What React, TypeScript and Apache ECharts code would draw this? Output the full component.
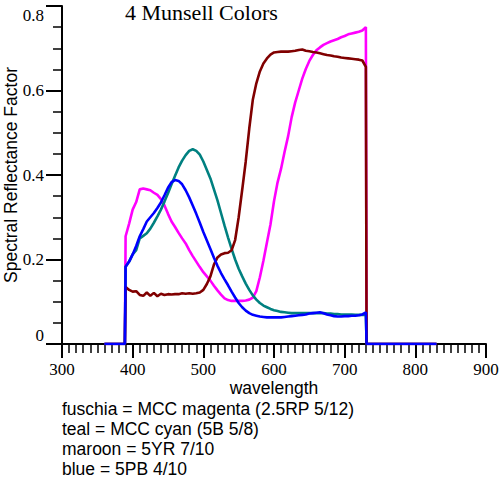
import React, { useEffect, useRef } from "react";
import * as echarts from "echarts";

// Wavelength grid (nm) for the measured part of the spectra
const WAVELENGTHS = [
  390, 395, 400, 405, 410, 415, 420, 425, 430, 435, 440, 445, 450, 455, 460, 465, 470, 475, 480, 485,
  490, 495, 500, 505, 510, 515, 520, 525, 530, 535, 540, 545, 550, 555, 560, 565, 570, 575, 580, 585,
  590, 595, 600, 605, 610, 615, 620, 625, 630, 635, 640, 645, 650, 655, 660, 665, 670, 675, 680, 685,
  690, 695, 700, 705, 710, 715, 720, 725, 730,
];
// Zero-valued lead-in / lead-out wavelengths
const LEAD_IN = [360, 389];
const LEAD_OUT = [731, 830];

const MAGENTA = [
  0.255, 0.285, 0.318, 0.336, 0.366, 0.368, 0.366, 0.364, 0.358, 0.353, 0.343, 0.328, 0.308, 0.290, 0.277, 0.263, 0.250, 0.238, 0.222, 0.208,
  0.195, 0.182, 0.170, 0.160, 0.150, 0.138, 0.127, 0.117, 0.108, 0.104, 0.102, 0.102, 0.102, 0.102, 0.103, 0.105, 0.110, 0.125, 0.158, 0.197,
  0.240, 0.283, 0.338, 0.382, 0.415, 0.455, 0.492, 0.537, 0.572, 0.600, 0.628, 0.651, 0.670, 0.684, 0.695, 0.702, 0.708, 0.712, 0.716, 0.719,
  0.722, 0.726, 0.729, 0.733, 0.735, 0.737, 0.739, 0.742, 0.750,
];
const TEAL = [
  0.183, 0.195, 0.212, 0.222, 0.250, 0.256, 0.262, 0.273, 0.287, 0.302, 0.318, 0.337, 0.357, 0.378, 0.398, 0.418, 0.434, 0.447, 0.457, 0.461,
  0.457, 0.448, 0.432, 0.412, 0.392, 0.366, 0.340, 0.310, 0.280, 0.252, 0.225, 0.200, 0.178, 0.160, 0.143, 0.128, 0.115, 0.105, 0.097, 0.091,
  0.087, 0.083, 0.080, 0.078, 0.076, 0.075, 0.074, 0.073, 0.073, 0.073, 0.073, 0.073, 0.073, 0.073, 0.073, 0.073, 0.073, 0.072, 0.072, 0.071,
  0.071, 0.070, 0.070, 0.070, 0.070, 0.069, 0.069, 0.069, 0.069,
];
const MAROON = [
  0.135, 0.128, 0.124, 0.125, 0.116, 0.114, 0.122, 0.114, 0.121, 0.113, 0.119, 0.116, 0.118, 0.117, 0.118, 0.118, 0.120, 0.119, 0.120, 0.119,
  0.120, 0.122, 0.128, 0.142, 0.160, 0.188, 0.205, 0.212, 0.215, 0.216, 0.222, 0.246, 0.300, 0.365, 0.432, 0.510, 0.578, 0.617, 0.645, 0.664,
  0.676, 0.685, 0.690, 0.691, 0.692, 0.692, 0.692, 0.693, 0.694, 0.696, 0.697, 0.694, 0.693, 0.691, 0.690, 0.688, 0.686, 0.684, 0.683, 0.681,
  0.680, 0.678, 0.677, 0.676, 0.675, 0.674, 0.673, 0.671, 0.656,
];
const BLUE = [
  0.183, 0.195, 0.212, 0.232, 0.255, 0.272, 0.290, 0.300, 0.310, 0.322, 0.335, 0.352, 0.370, 0.383, 0.388, 0.386, 0.378, 0.364, 0.347, 0.328,
  0.308, 0.287, 0.265, 0.245, 0.225, 0.204, 0.185, 0.168, 0.153, 0.139, 0.124, 0.110, 0.097, 0.087, 0.079, 0.073, 0.069, 0.067, 0.065, 0.064,
  0.063, 0.063, 0.063, 0.063, 0.063, 0.064, 0.065, 0.066, 0.067, 0.068, 0.069, 0.070, 0.072, 0.073, 0.074, 0.075, 0.073, 0.070, 0.068, 0.066,
  0.065, 0.065, 0.066, 0.066, 0.067, 0.067, 0.068, 0.070, 0.075,
];

const SERIES_NAMES = ["fuschia", "teal", "maroon", "blue"];
const SERIES_COLORS = ["#ff00ff", "#008080", "#800000", "#0000ff"];
const SERIES_VALUES = [MAGENTA, TEAL, MAROON, BLUE];

const TITLE = "4 Munsell Colors";
const X_NAME = "wavelength";
const Y_NAME = "Spectral Reflectance Factor";
const NOTES = [
  "fuschia = MCC magenta (2.5RP 5/12)",
  "teal = MCC cyan (5B 5/8)",
  "maroon = 5YR 7/10",
  "blue = 5PB 4/10",
];

const X_MIN = 300;
const X_MAX = 900;
const X_STEP = 100;
const Y_MIN = 0;
const Y_MAX = 0.8;
const Y_STEP = 0.2;

const SERIF = "'Liberation Serif', 'Times New Roman', serif";
const SANS = "'Liberation Sans', Arial, Helvetica, sans-serif";

function buildPoints(values: number[]): number[][] {
  const pts: number[][] = LEAD_IN.map((w) => [w, 0]);
  WAVELENGTHS.forEach((w, i) => pts.push([w, values[i]]));
  LEAD_OUT.forEach((w) => pts.push([w, 0]));
  return pts;
}

export default function App() {
  const ref = useRef<HTMLDivElement>(null);

  useEffect(() => {
    if (!ref.current) return;
    const chart = echarts.init(ref.current, undefined, { renderer: "svg" });
    const labelBase = { fontFamily: SERIF, fontSize: 17, color: "#000" };
    chart.setOption({
      animation: false,
      backgroundColor: "#fff",
      title: {
        text: TITLE,
        left: 125,
        top: 1,
        padding: 0,
        textStyle: { fontFamily: SERIF, fontSize: 22, fontWeight: "normal", color: "#000" },
      },
      grid: { left: 62, right: 14, top: 6, bottom: 136, containLabel: false, outerBoundsMode: "none" },
      xAxis: {
        type: "value",
        min: X_MIN,
        max: X_MAX,
        interval: X_STEP,
        name: X_NAME,
        nameLocation: "middle",
        nameGap: 35,
        nameMoveOverlap: false,
        nameTextStyle: { fontFamily: SANS, fontSize: 17.5, color: "#000", lineHeight: 17 },
        axisLine: { show: true, onZero: false, lineStyle: { color: "#000", width: 2 } },
        axisTick: { show: true, inside: false, length: 14, lineStyle: { color: "#000", width: 2 } },
        minorTick: { show: true, splitNumber: 10, length: 9, lineStyle: { color: "#000", width: 1.5 } },
        splitLine: { show: false },
        axisLabel: { ...labelBase, margin: 18, lineHeight: 15 },
      },
      yAxis: {
        type: "value",
        min: Y_MIN,
        max: Y_MAX,
        interval: Y_STEP,
        name: Y_NAME,
        nameLocation: "middle",
        nameGap: 42,
        nameMoveOverlap: false,
        nameRotate: 90,
        nameTextStyle: { fontFamily: SANS, fontSize: 17.5, color: "#000" },
        axisLine: { show: true, lineStyle: { color: "#000", width: 2 } },
        axisTick: { show: true, inside: false, length: 16, lineStyle: { color: "#000", width: 2 } },
        minorTick: { show: true, splitNumber: 4, length: 9, lineStyle: { color: "#000", width: 1.5 } },
        splitLine: { show: false },
        axisLabel: {
          ...labelBase,
          margin: 18,
          formatter: (v: number) => {
            const s = String(Math.round(v * 10) / 10);
            if (Math.abs(v - Y_MAX) < 1e-9) return `{t|${s}}`;
            if (Math.abs(v - Y_MIN) < 1e-9) return `{b|${s}}`;
            return `{n|${s}}`;
          },
          rich: {
            t: { ...labelBase, padding: [18, 0, 0, 0] },
            b: { ...labelBase, padding: [0, 0, 18, 0] },
            n: { ...labelBase },
          },
        },
      },
      graphic: NOTES.map((text, i) => ({
        type: "text",
        x: 62,
        y: 409 + i * 20,
        style: {
          text,
          fontFamily: SANS,
          fontSize: 17.5,
          fill: "#000",
          verticalAlign: "middle",
          align: "left",
        },
      })),
      series: SERIES_VALUES.map((vals, i) => ({
        name: SERIES_NAMES[i],
        type: "line",
        data: buildPoints(vals),
        showSymbol: false,
        symbol: "none",
        lineStyle: { color: SERIES_COLORS[i], width: 2.6 },
        itemStyle: { color: SERIES_COLORS[i] },
        z: 2 + i,
      })),
    });
    return () => chart.dispose();
  }, []);

  return (
    <div
      ref={ref}
      style={{ position: "fixed", left: 0, top: 0, width: 500, height: 480, background: "#fff" }}
    />
  );
}
